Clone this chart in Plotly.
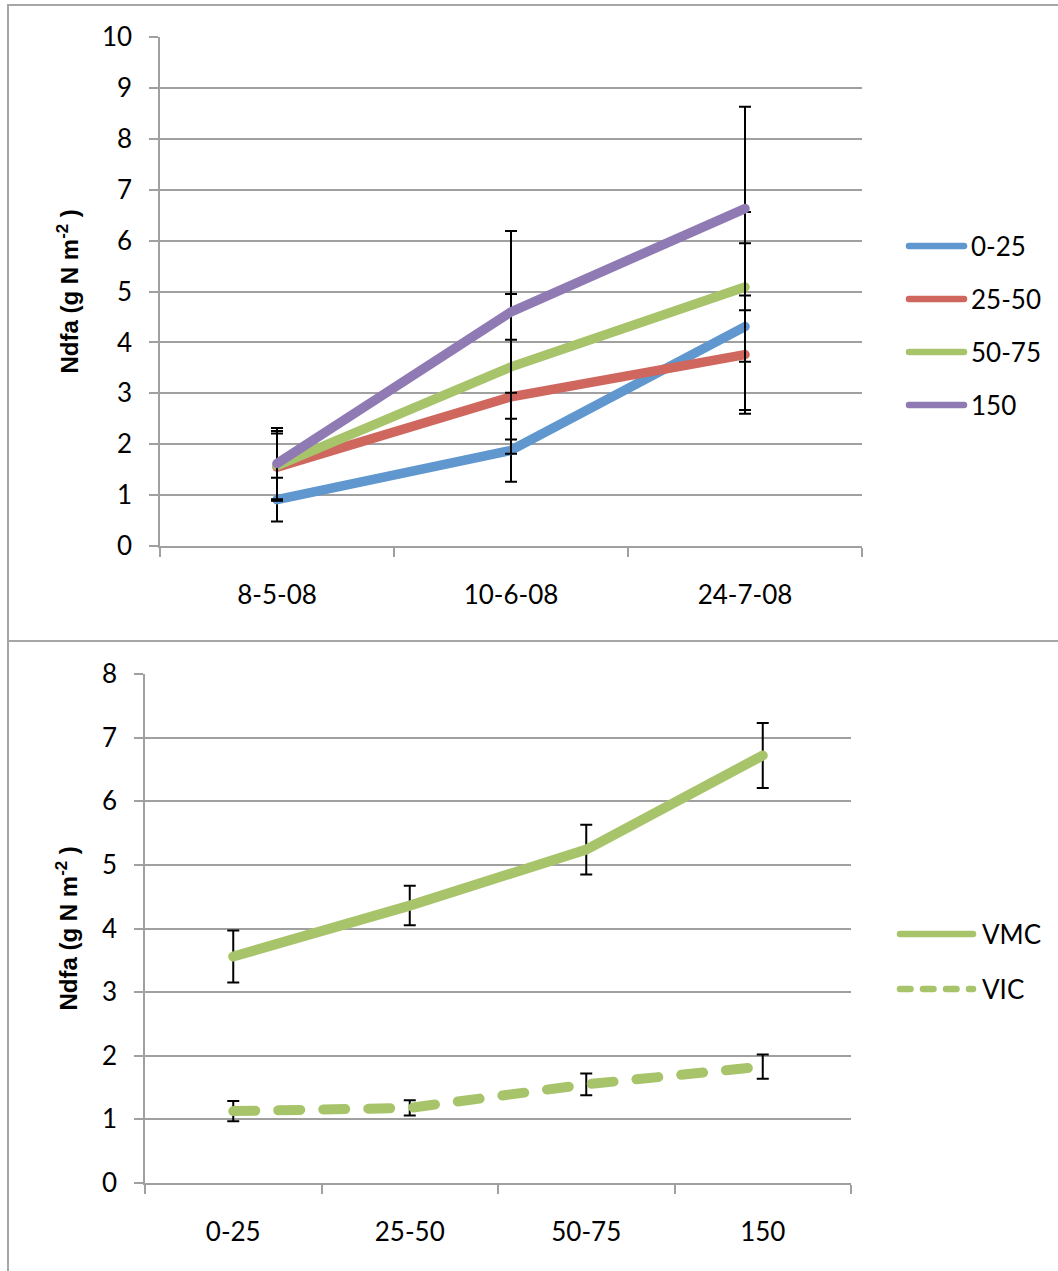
import plotly.graph_objects as go

# ---- data: Ndfa by sampling date and depth class ----
dates = ["8-5-08", "10-6-08", "24-7-08"]
depth_names = ["0-25", "25-50", "50-75", "150"]
ndfa_0_25 = [0.91, 1.88, 4.31]
ndfa_25_50 = [1.55, 2.93, 3.76]
ndfa_50_75 = [1.58, 3.52, 5.09]
ndfa_150 = [1.62, 4.60, 6.63]
err_0_25 = [0.43, 0.62, 1.64]
err_25_50 = [0.66, 1.12, 1.16]
err_50_75 = [0.68, 1.43, 1.47]
err_150 = [0.70, 1.59, 2.00]

# ---- data: Ndfa by depth class for the two systems ----
depth_cats = ["0-25", "25-50", "50-75", "150"]
system_names = ["VMC", "VIC"]
vmc = [3.56, 4.36, 5.24, 6.72]
vmc_err = [0.41, 0.31, 0.39, 0.51]
vic = [1.13, 1.18, 1.55, 1.83]
vic_err = [0.16, 0.12, 0.17, 0.19]

W, H = 1058, 1271
FONT = "Lato"
GRID = "#A0A0A0"
BLUE, RED, GREEN, PURPLE = "#5F97CE", "#CF675F", "#A8C46B", "#907AB3"


def px(x):
    return x / W


def py(y):
    return 1 - y / H


fig = go.Figure()

top_series = [
    (ndfa_0_25, err_0_25, BLUE),
    (ndfa_25_50, err_25_50, RED),
    (ndfa_50_75, err_50_75, GREEN),
    (ndfa_150, err_150, PURPLE),
]
for name, (vals, errs, col) in zip(depth_names, top_series):
    fig.add_trace(go.Scatter(
        x=dates, y=vals, name=name, mode="lines",
        line=dict(color=col, width=9.5),
        error_y=dict(type="data", array=errs, color="black", thickness=2, width=6),
        xaxis="x", yaxis="y", showlegend=False,
    ))

fig.add_trace(go.Scatter(
    x=depth_cats, y=vmc, name=system_names[0], mode="lines",
    line=dict(color=GREEN, width=10),
    error_y=dict(type="data", array=vmc_err, color="black", thickness=2, width=6),
    xaxis="x2", yaxis="y2", showlegend=False,
))
fig.add_trace(go.Scatter(
    x=depth_cats, y=vic, name=system_names[1], mode="lines",
    line=dict(color=GREEN, width=10, dash="22px,23px"),
    error_y=dict(type="data", array=vic_err, color="black", thickness=2, width=6),
    xaxis="x2", yaxis="y2", showlegend=False,
))

tickfont = dict(family=FONT, size=26, color="black")
xcommon = dict(
    type="category", tickson="boundaries", ticks="outside", ticklen=9,
    tickwidth=1.5, tickcolor=GRID, showline=True, linecolor=GRID, linewidth=1.5,
    showgrid=False, tickfont=tickfont, ticklabelstandoff=25, fixedrange=True,
    automargin=False,
)
ycommon = dict(
    dtick=1, ticks="outside", ticklen=9, tickwidth=1.5, tickcolor=GRID,
    showline=True, linecolor=GRID, linewidth=1.5, showgrid=True,
    gridcolor=GRID, gridwidth=1.5, zeroline=False, tickfont=tickfont,
    ticklabelstandoff=12, fixedrange=True, automargin=False,
)

fig.update_layout(
    width=W, height=H, autosize=False,
    margin=dict(l=0, r=0, t=0, b=0, pad=0, autoexpand=False),
    paper_bgcolor="white", plot_bgcolor="white",
    showlegend=False,
    xaxis=dict(domain=[px(160), px(862)], range=[-0.5, 2.5], anchor="y", **xcommon),
    yaxis=dict(domain=[py(546), py(37)], range=[0, 10], anchor="x", **ycommon),
    xaxis2=dict(domain=[px(145), px(851)], range=[-0.5, 3.5], anchor="y2", **xcommon),
    yaxis2=dict(domain=[py(1183), py(674)], range=[0, 8], anchor="x2", **ycommon),
)

ytitle = "<b>Ndfa (g N m<sup>-2</sup>&nbsp;)</b>"
for yc in [(546 + 37) / 2, (1183 + 674) / 2]:
    fig.add_annotation(
        text=ytitle, xref="paper", yref="paper", x=px(67), y=py(yc),
        textangle=-90, showarrow=False, xanchor="center", yanchor="middle",
        font=dict(family="Liberation Sans", size=24, color="black"),
    )

# chart frames
FRAME = "#A6A6A6"
fig.add_shape(type="line", xref="paper", yref="paper", x0=px(8), x1=px(8), y0=py(5), y1=py(H),
              line=dict(color=FRAME, width=2))
fig.add_shape(type="line", xref="paper", yref="paper", x0=px(7), x1=px(W), y0=py(5), y1=py(5),
              line=dict(color=FRAME, width=2))
fig.add_shape(type="line", xref="paper", yref="paper", x0=px(7), x1=px(W), y0=py(641), y1=py(641),
              line=dict(color=FRAME, width=2))

# legend entries for the date chart
top_cols = [BLUE, RED, GREEN, PURPLE]
for i, (name, col) in enumerate(zip(depth_names, top_cols)):
    yy = 246 + i * 53
    fig.add_shape(type="line", xref="paper", yref="paper", x0=px(909), x1=px(964), y0=py(yy), y1=py(yy),
                  line=dict(color=col, width=6.5))
    fig.add_annotation(text=name, xref="paper", yref="paper", x=px(969), y=py(yy),
                       xanchor="left", yanchor="middle", showarrow=False, font=tickfont)

# legend entries for the depth chart
for i, (name, dash) in enumerate(zip(system_names, ["solid", "10.5px,12.5px"])):
    yy = 934 + i * 55
    fig.add_shape(type="line", xref="paper", yref="paper", x0=px(900), x1=px(973), y0=py(yy), y1=py(yy),
                  line=dict(color=GREEN, width=6.5, dash=dash))
    fig.add_annotation(text=name, xref="paper", yref="paper", x=px(980), y=py(yy),
                       xanchor="left", yanchor="middle", showarrow=False, font=tickfont)

# rounded ends on the thick data and legend strokes
round_caps = """
var gd = document.getElementsByClassName('plotly-graph-div')[0];
function roundCaps() {
  gd.querySelectorAll('.scatterlayer .js-line').forEach(function (p) {
    p.style.strokeLinecap = 'round';
  });
  gd.querySelectorAll('.shapelayer path').forEach(function (p) {
    if (parseFloat(p.style.strokeWidth) > 4) { p.style.strokeLinecap = 'round'; }
  });
}
roundCaps();
gd.on('plotly_afterplot', roundCaps);
"""

fig.write_html("out.html", post_script=round_caps)
